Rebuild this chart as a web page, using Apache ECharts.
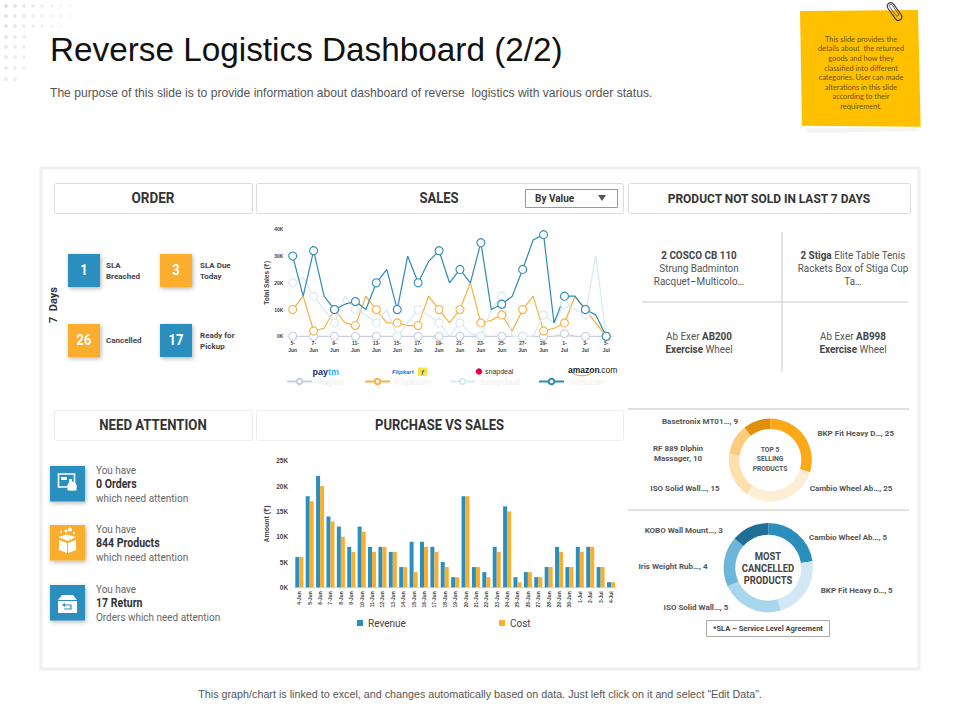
<!DOCTYPE html>
<html><head><meta charset="utf-8">
<style>html,body{margin:0;padding:0;background:#fff}#c{width:960px;height:720px}</style>
<script src="https://cdn.jsdelivr.net/npm/echarts@6/dist/echarts.min.js"></script>
</head><body><div id="c"></div>
<script>
const salesDays = ['5-Jun','6-Jun','7-Jun','8-Jun','9-Jun','10-Jun','11-Jun','12-Jun','13-Jun','14-Jun','15-Jun','16-Jun','17-Jun','18-Jun','19-Jun','20-Jun','21-Jun','22-Jun','23-Jun','24-Jun','25-Jun','26-Jun','27-Jun','28-Jun','29-Jun','30-Jun','1-Jul','2-Jul','3-Jul','4-Jul','5-Jul'];
const paytm    = [0,0,0,0,0,0,0,0,0,0,0,0,0,0,0,0,0,0,0,0,0,0,0,0,0,0,1,0,0,0,0];
const flipkart = [10,15,2,3,10,5,4,15,10,5,5,4,4,15,10,5,10,20,5,6,8,2,10,15,2,3,5,15,10,5,0];
const snapdeal = [20,22,15,10,5,15,10,8,5,10,0,5,10,8,5,0,5,1,0,10,15,0,0,0,8,5,12,10,8,30,0];
const amazon   = [30,15,32,15,10,12,13,10,20,25,10,30,20,28,32,20,25,20,35,10,12,15,25,36,38,5,15,15,10,8,0];
const purchaseDays = ['4-Jun','5-Jun','6-Jun','7-Jun','8-Jun','9-Jun','10-Jun','11-Jun','12-Jun','13-Jun','14-Jun','15-Jun','16-Jun','17-Jun','18-Jun','19-Jun','20-Jun','21-Jun','22-Jun','23-Jun','24-Jun','25-Jun','26-Jun','27-Jun','28-Jun','29-Jun','30-Jun','1-Jul','2-Jul','3-Jul','4-Jul'];
const revenue = [6,18,22,14,12,8,12,8,8,7,4,9,9,8,5,2,18,4,3,8,16,2,3,2,4,8,4,8,8,4,1];
const cost    = [6,17,20,13,10,7,11,7,8,7,4,3,8,7,4,2,18,4,2,7,15,1,3,2,4,7,4,7,8,4,1];
const topNames = ['BKP Fit Heavy D…','Cambio Wheel Ab…','ISO Solid Wall…','RF 889 Dlphin\nMassager','Basetronix MT01…'];
const topValues = [25,25,15,10,9];
const cancelNames = ['Cambio Wheel Ab…','BKP Fit Heavy D…','ISO Solid Wall…','Iris Weight Rub…','KOBO Wall Mount…'];
const cancelValues = [5,5,5,4,3];
const orderTiles = [['1','SLA\nBreached'],['3','SLA Due\nToday'],['26','Cancelled'],['17','Ready for\nPickup']];

const NARROW = 'Roboto,"Liberation Sans",sans-serif';
const SANS = '"Liberation Sans",Arial,sans-serif';
const BLUE = '#2B8FBE', ORANGE = '#FBAE2E';
const g = [];
const rect = (x,y,w,h,fill,stroke,extra={}) => g.push({type:'rect',shape:{x,y,width:w,height:h,r:extra.r||0},style:{fill:fill||'transparent',stroke:stroke||null,lineWidth:extra.lw||1,shadowBlur:extra.blur||0,shadowColor:extra.sc||'transparent',shadowOffsetX:extra.ox||0,shadowOffsetY:extra.oy||0},silent:true,z:extra.z||1});
const text = (x,y,t,font,color,align='left',extra={}) => g.push({type:'text',x,y,rotation:extra.rot||0,scaleX:extra.sx||1,style:{text:t,font,fill:color,textAlign:align,textVerticalAlign:'middle',lineHeight:extra.lh},silent:true,z:extra.z||5});
const line = (x1,y1,x2,y2,c,w=1) => g.push({type:'line',shape:{x1,y1,x2,y2},style:{stroke:c,lineWidth:w},silent:true,z:2});
const circle = (cx,cy,r,fill,z=6) => g.push({type:'circle',shape:{cx,cy,r},style:{fill},silent:true,z});
const poly = (points,fill,z=6,extra={}) => g.push({type:'polygon',shape:{points},style:Object.assign({fill},extra),silent:true,z});

// corner dots
const dotRows=[[6,8],[16,8],[26,7],[37,3],[47,3],[57,3],[68,3],[79,2]];
const dotX=[6,15,24,33,42,52,61,70];
dotRows.forEach(([y,n],ri)=>{for(let i=0;i<n;i++){circle(dotX[i],y,2-(i*0.1),'rgba(200,200,200,'+(0.55-i*0.05-ri*0.03)+')',1);}});

text(50,49,'Reverse Logistics Dashboard (2/2)','33.3px '+SANS,'#111');
text(50,93,'The purpose of this slide is to provide information about dashboard of reverse  logistics with various order status.','12.1px '+SANS,'#555');
text(480,694,'This graph/chart is linked to excel, and changes automatically based on data. Just left click on it and select “Edit Data”.','10.75px '+SANS,'#555','center');

// sticky note
poly([[806,128],[915,128],[922,131],[808,133]],'#f4f4f4',1);
poly([[800,11],[918,10],[920.7,126.7],[802,125.7]],'#FFC000',2);
['This slide provides the','details about  the returned','goods and how they','classified into different','categories. User can made','alterations in this slide','according to their','requirement.'].forEach((t,i)=>text(861,39.3+i*9.6,t,'7.4px Lato,'+SANS,'#6b5210','center'));
g.push({type:'rect',x:894.5,y:11.5,rotation:0.62,shape:{x:-3.5,y:-10,width:7,height:20,r:3.5},style:{fill:'transparent',stroke:'#3c3c4a',lineWidth:1.2},silent:true,z:7});
g.push({type:'rect',x:894.5,y:11,rotation:0.62,shape:{x:-1.5,y:-8,width:3,height:14,r:1.5},style:{fill:'transparent',stroke:'#555',lineWidth:.8},silent:true,z:7});

// main panel
rect(41,168,878,501,'#fff','#efefef',{lw:3,z:0});
[[54,183,198,'ORDER','#dcdcdc',15,.9],[256,183,367,'SALES','#dcdcdc',15,.87],[628,183,282,'PRODUCT NOT SOLD IN LAST 7 DAYS','#dcdcdc',13,.92],[54,410,198,'NEED ATTENTION','#ededed',15,.88],[256,410,367,'PURCHASE VS SALES','#ededed',15,.866]].forEach(([x,y,w,t,c,fs,sx])=>{
  rect(x+.5,y+.5,w,30,'#fff',c,{r:2});
  text(t==='SALES'?439:x+w/2,y+15,t,'bold '+fs+'px '+NARROW,'#333','center',{sx});
});
rect(525.5,189.5,92,18,'#fff','#9a9a9a');
text(535,198.5,'By Value','bold 10px '+NARROW,'#333');
poly([[598,195],[606,195],[602,201]],'#555');

// order tiles
const tileX=[68,160], tileY=[254,324], tileGap=[38,40];
orderTiles.forEach(([n,l],i)=>{
  const x=tileX[i%2], y=tileY[i>>1], c=(i===0||i===3)?BLUE:ORANGE;
  rect(x,y,32,33,c,null,{blur:4,sc:'rgba(0,0,0,.3)',ox:1,oy:1.5,z:3});
  text(x+16,y+16.5,n,'bold 14px '+NARROW,'#fff','center',{sx:.92});
  text(x+tileGap[i%2],y+16.5,l,'bold 8px '+NARROW,'#444','left',{lh:11});
});
text(53,305,'7  Days','bold 11px '+NARROW,'#333','center',{rot:Math.PI/2});

// product cells
line(782,232,782,372,'#c9c9c9');
line(642,302,908,302,'#c9c9c9');
const cell=(x,y,t)=>g.push({type:'text',x,y,scaleX:.9,style:{text:t,font:'11px '+NARROW,fill:'#555',textAlign:'center',textVerticalAlign:'middle',lineHeight:13,rich:{b:{font:'bold 11px '+NARROW,fill:'#444',lineHeight:13,align:'center'},n:{font:'11px '+NARROW,fill:'#555',lineHeight:13,align:'center'}}},silent:true,z:5});
cell(699,268,'{b|2 COSCO CB 110}\n{n|Strung Badminton}\n{n|Racquet–Multicolo…}');
cell(853,268,'{b|2 Stiga} {n|Elite Table Tenis}\n{n|Rackets Box of Stiga Cup}\n{n|Ta…}');
cell(699,343,'{n|Ab Exer }{b|AB200}\n{b|Exercise} {n|Wheel}');
cell(853,343,'{n|Ab Exer }{b|AB998}\n{b|Exercise} {n|Wheel}');
line(628,409,909,409,'#c4c4c4');
line(628,510,909,510,'#c4c4c4');

// attention rows
[[466,BLUE,['You have','0 Orders','which need attention']],[525,ORANGE,['You have','844 Products','which need attention']],[585,BLUE,['You have','17 Return','Orders which need attention']]].forEach(([y,c,t])=>{
  rect(50,y,35,35.5,c,null,{blur:4,sc:'rgba(0,0,0,.3)',ox:1,oy:1.5,z:3});
  text(96,y+4.5,t[0],'11px '+NARROW,'#666','left',{sx:.905});
  text(96,y+18,t[1],'bold 12px '+NARROW,'#333','left',{sx:.88});
  text(96,y+32.5,t[2],'11px '+NARROW,'#666','left',{sx:.905});
});
// icon 1 : window + pointer
rect(58.5,474,16,13,'transparent','#fff',{lw:1.6,z:6}); rect(61,477,6,3,'#fff',null,{z:6});
circle(72,486,4.5,'#fff'); rect(69,479,3,6,'#fff',null,{z:6}); rect(67.5,485,9,5.5,'#fff',null,{z:6});
// icon 2 : gift box
poly([[59,540],[67,543],[67,553],[59,550]],'#fff'); poly([[68,543],[76,540],[76,550],[68,553]],'#fff'); poly([[58,537],[67,534.5],[76,537],[68,541]],'#fff');
circle(66,531,1.5,'#fff'); circle(70,529.5,2,'#fff'); circle(61,532,1,'#fff'); circle(74,533,1,'#fff');
// icon 3 : return box
poly([[58,600],[62,595],[73,595],[77,600]],'#fff'); rect(58,601,19,12,'#fff',null,{z:6});
g.push({type:'polyline',shape:{points:[[63,605],[71,605],[71,609],[64,609]]},style:{stroke:BLUE,lineWidth:1.2,fill:'transparent'},silent:true,z:7});
poly([[62,605],[65,603],[65,607]],BLUE,7);

// logos
text(328,371.5,'pay','bold 9px '+SANS,'#172B6F','right');
text(328,371.5,'tm','bold 9px '+SANS,'#27B8EE');
text(392,371.5,'Flipkart','italic bold 6px '+SANS,'#2A6DD8');
rect(418,367.5,9,8.5,'#FFE23F',null,{z:5}); text(422.5,372,'f','italic bold 7px '+SANS,'#2A6DD8','center');
circle(479,371.5,3.2,'#E40046');
text(485,371.5,'snapdeal','7px '+SANS,'#333');
text(568,370,'amazon','bold 8.5px '+SANS,'#222');
text(599,370,'.com','8.5px '+SANS,'#222');
g.push({type:'bezierCurve',shape:{x1:573,y1:373.5,cpx1:578,cpy1:376.5,cpx2:586,cpy2:376.5,x2:591,y2:373.5},style:{stroke:'#F29A1F',lineWidth:1,fill:'transparent'},silent:true,z:6});

// donut captions
['TOP 5','SELLING','PRODUCTS'].forEach((t,i)=>text(770,449+i*9.5,t,'bold 7.5px '+NARROW,'#555','center',{sx:.9}));
['MOST','CANCELLED','PRODUCTS'].forEach((t,i)=>text(768,556.5+i*12,t,'bold 10.5px '+NARROW,'#444','center',{sx:.9}));
rect(706.5,620.5,123,16,'#fff','#aaa');
text(768,628.5,'*SLA – Service Level Agreement','bold 7.5px '+NARROW,'#444','center');

const topLabelPos=[[855.7,433.3],[851,488.3],[685,488.3],[678,453.3],[700,421.3]];
const cancelLabelPos=[[848,537],[856.7,590],[696,607],[673,566.3],[683.7,530]];
const pie=(names,vals,colors,center,radius,pos)=>({type:'pie',z:3,center,radius,startAngle:90,clockwise:true,silent:true,
  data:names.map((name,i)=>({name,value:vals[i],itemStyle:{color:colors[i]}})),
  itemStyle:{borderWidth:0},
  label:{show:true,position:'outside',formatter:p=>p.name+', '+p.value,fontFamily:NARROW,fontWeight:'bold',fontSize:8,color:'#555',lineHeight:10,align:'center'},
  labelLine:{show:false},
  labelLayout:p=>({x:pos[p.dataIndex][0],y:pos[p.dataIndex][1],align:'center',verticalAlign:'middle',hideOverlap:false})
});
const lineS=(name,data,color)=>({name,type:'line',z:3,data:data.map(v=>v*1000),xAxisIndex:0,yAxisIndex:0,symbol:'circle',symbolSize:8,showSymbol:true,
  lineStyle:{color,width:1.2},itemStyle:{color:'#fff',borderColor:color,borderWidth:1.1},silent:true,animation:false});
const legendL=(name,left)=>({z:4,padding:0,data:[name],left,top:377,itemWidth:25,itemHeight:7,textStyle:{color:'#f2f2f2',fontWeight:'bold',fontSize:9,fontFamily:SANS},selectedMode:false});
const tickStyle={fontFamily:SANS,fontSize:5,fontWeight:'bold',color:'#444'};
const barLegend=(name,left)=>({z:4,padding:0,data:[name],left,top:618,itemWidth:6,itemHeight:6,icon:'rect',textStyle:{fontFamily:NARROW,fontSize:10,color:'#444'},selectedMode:false});

const option={animation:false,backgroundColor:'#fff',
 graphic:{elements:g},
 legend:[legendL('Paytm',286),legendL('Flipkart',364),legendL('Snapdeal',449),legendL('Amazon',538),barLegend('Revenue',357),barLegend('Cost',499)],
 grid:[{left:287.5,width:324,top:229.3,height:107},{left:294.1,width:322.1,top:460.8,height:126.5}],
 xAxis:[{z:3,gridIndex:0,type:'category',data:salesDays,axisTick:{show:false},axisLine:{lineStyle:{color:'#e8e8e8'}},
   axisLabel:Object.assign({},tickStyle,{interval:1,margin:3,lineHeight:7,formatter:v=>v.replace('-','-\n')})},
  {z:3,gridIndex:1,type:'category',data:purchaseDays,axisTick:{show:false},axisLine:{lineStyle:{color:'#d9d9d9'}},
   axisLabel:Object.assign({},tickStyle,{interval:0,rotate:90,margin:4})}],
 yAxis:[{z:3,gridIndex:0,type:'value',min:0,max:40000,interval:10000,splitLine:{show:false},axisLine:{show:false},axisTick:{show:false},
   name:'Total Sales (₹)',nameLocation:'middle',nameGap:16,nameRotate:90,nameTextStyle:{fontFamily:SANS,fontSize:6.5,fontWeight:'bold',color:'#444'},
   axisLabel:Object.assign({},tickStyle,{margin:4,formatter:v=>(v/1000)+'K'})},
  {z:3,gridIndex:1,type:'value',min:0,max:25000,interval:5000,splitLine:{show:false},axisLine:{show:false},axisTick:{show:false},
   name:'Amount (₹)',nameLocation:'middle',nameGap:24,nameRotate:90,nameTextStyle:{fontFamily:SANS,fontSize:7,fontWeight:'bold',color:'#444'},
   axisLabel:Object.assign({},tickStyle,{fontSize:6.5,margin:6,formatter:v=>(v/1000)+'K'})}],
 series:[lineS('Paytm',paytm,'#C9CEE6'),lineS('Flipkart',flipkart,'#F9B040'),lineS('Snapdeal',snapdeal,'#D5E9F3'),lineS('Amazon',amazon,'#2E8AB5'),
  {name:'Revenue',type:'bar',z:3,xAxisIndex:1,yAxisIndex:1,data:revenue.map(v=>v*1000),barWidth:4,barGap:0,itemStyle:{color:BLUE},silent:true},
  {name:'Cost',type:'bar',z:3,xAxisIndex:1,yAxisIndex:1,data:cost.map(v=>v*1000),barWidth:4,barGap:0,itemStyle:{color:ORANGE},silent:true},
  pie(topNames,topValues,['#FBA919','#FDEFD6','#FDE0AE','#FCCB7E','#E0900A'],[770.3,460],[31,41.5],topLabelPos),
  pie(cancelNames,cancelValues,['#2A8FBD','#D2E9F5','#A8D6EC','#6EB5DA','#1F6F96'],[768.3,567.7],[33,44.7],cancelLabelPos)]
};
const chart=echarts.init(document.getElementById('c'),null,{renderer:'svg',width:960,height:720});
chart.setOption(option);
</script></body></html>
